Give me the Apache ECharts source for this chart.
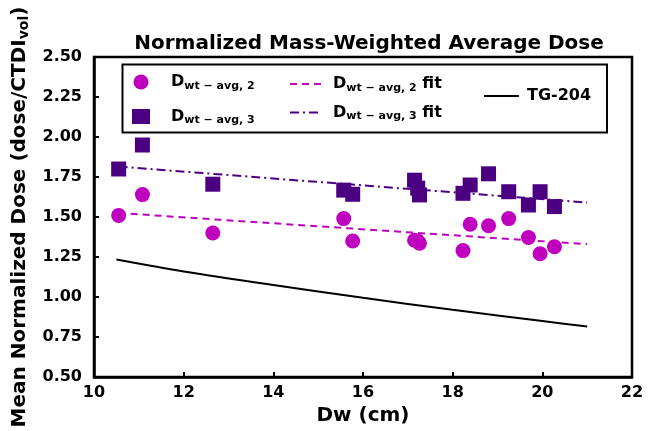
<!DOCTYPE html>
<html><head><meta charset="utf-8">
<script src="https://cdn.jsdelivr.net/npm/echarts@6/dist/echarts.min.js"></script>
<style>html,body{margin:0;padding:0;background:#fff}#c{width:649px;height:431px}</style>
</head><body><div id="c"></div>
<script>
// Water-equivalent diameter (cm)
const dw = [10.55, 11.08, 12.65, 15.57, 15.77, 17.15, 17.22, 17.26, 18.23, 18.39, 18.80, 19.25, 19.69, 19.95, 20.27];
// D_wt-avg,2 (circles)
const davg2 = [1.51, 1.64, 1.40, 1.49, 1.35, 1.355, 1.35, 1.336, 1.29, 1.455, 1.445, 1.49, 1.372, 1.27, 1.314];
// D_wt-avg,3 (squares)
const davg3 = [1.80, 1.95, 1.705, 1.668, 1.642, 1.73, 1.68, 1.638, 1.648, 1.70, 1.77, 1.658, 1.575, 1.658, 1.565];
// Linear fits (end points)
const fitX = [10.55, 21.0];
const fit2 = [1.525, 1.33];
const fit3 = [1.815, 1.59];
// TG-204 curve
const tgX = [10.5, 12, 14, 16, 18, 20, 21];
const tgY = [1.235, 1.16, 1.075, 0.995, 0.92, 0.85, 0.815];
const xTicks = [10, 12, 14, 16, 18, 20, 22];
const yTicks = [0.5, 0.75, 1.0, 1.25, 1.5, 1.75, 2.0, 2.25, 2.5];

const FF = 'DejaVu Sans';
const zip = (a, b) => a.map((v, i) => [v, b[i]]);
const MAG = '#bf00bf', IND = '#4b0082';
const rich = {
  D: {fontSize: 16, fontWeight: 'bold', fontFamily: FF, color: '#000'},
  s: {fontSize: 11, fontWeight: 'bold', fontFamily: FF, color: '#000', padding: [8, 0, 0, 0]},
  t: {fontSize: 16, fontWeight: 'bold', fontFamily: FF, color: '#000'},
  g1: {width: 16}, g2: {width: 6}, g3: {width: 3}
};
const names = {
  'D2': '{g1| }{D|D}{s|wt − avg, 2}',
  'D3': '{g1| }{D|D}{s|wt − avg, 3}',
  'F2': '{g2| }{D|D}{s|wt − avg, 2}{t| fit}',
  'F3': '{g2| }{D|D}{s|wt − avg, 3}{t| fit}',
  'TG': '{g3| }{t|TG-204}'
};
const chart = echarts.init(document.getElementById('c'), null, {renderer: 'canvas'});
chart.setOption({
  animation: false,
  backgroundColor: '#fff',
  title: {
    text: 'Normalized Mass-Weighted Average Dose', left: 364, top: 29, textAlign: 'center',
    textStyle: {fontFamily: FF, fontWeight: 'bold', fontSize: 20, color: '#000'}
  },
  grid: {left: 94, right: 17, top: 57, bottom: 54, show: true, borderColor: '#000', borderWidth: 2.5, containLabel: false},
  xAxis: {
    type: 'value', min: 10, max: 22, interval: 2,
    name: 'Dw (cm)', nameLocation: 'middle', nameGap: 29,
    nameTextStyle: {fontFamily: FF, fontWeight: 'bold', fontSize: 20, color: '#000'},
    axisLine: {lineStyle: {color: '#000', width: 2.5}},
    axisTick: {inside: true, length: 5, lineStyle: {color: '#000', width: 2}},
    axisLabel: {fontFamily: FF, fontWeight: 'bold', fontSize: 16, color: '#000', margin: 8,
      formatter: v => xTicks.includes(v) ? String(v) : ''},
    splitLine: {show: false}
  },
  yAxis: {
    type: 'value', min: 0.5, max: 2.5, interval: 0.25,
    name: '{n|Mean Normalized Dose (dose/CTDI}{v|vol}{n|)}', nameLocation: 'middle', nameGap: 63,
    nameTextStyle: {rich: {
      n: {fontFamily: FF, fontWeight: 'bold', fontSize: 20, color: '#000'},
      v: {fontFamily: FF, fontWeight: 'bold', fontSize: 14, color: '#000', padding: [9, 0, 0, 0]}
    }},
    axisLine: {lineStyle: {color: '#000', width: 2.5}},
    axisTick: {inside: true, length: 5, lineStyle: {color: '#000', width: 2}},
    axisLabel: {fontFamily: FF, fontWeight: 'bold', fontSize: 16, color: '#000', margin: 12,
      formatter: v => yTicks.some(t => Math.abs(t - v) < 1e-9) ? v.toFixed(2) : ''},
    splitLine: {show: false}
  },
  legend: [
    {orient: 'vertical', left: 127, top: 69, itemGap: 17, itemWidth: 18, itemHeight: 15, data: [
      {name: 'D2', icon: 'circle'}, {name: 'D3', icon: 'rect'}],
      formatter: n => names[n], textStyle: {rich}},
    {orient: 'vertical', left: 284, top: 71, itemGap: 11, itemWidth: 32, itemHeight: 18, data: ['F2', 'F3'],
      itemStyle: {opacity: 0}, formatter: n => names[n], textStyle: {rich}},
    {orient: 'vertical', left: 478, top: 83, itemWidth: 35, itemHeight: 18, data: ['TG'],
      itemStyle: {opacity: 0}, formatter: n => names[n], textStyle: {rich}}
  ],
  graphic: [{type: 'rect', shape: {x: 122.5, y: 64.5, width: 484.5, height: 68}, style: {fill: 'none', stroke: '#000', lineWidth: 2}, z: 10}],
  series: [
    {name: 'F2', type: 'line', data: zip(fitX, fit2), symbol: 'none', z: 2,
      lineStyle: {color: MAG, width: 2, type: [7, 5]}, itemStyle: {color: MAG}},
    {name: 'F3', type: 'line', data: zip(fitX, fit3), symbol: 'none', z: 2,
      lineStyle: {color: IND, width: 2, type: [9, 4, 2, 4]}, itemStyle: {color: IND}},
    {name: 'TG', type: 'line', data: zip(tgX, tgY), symbol: 'none', smooth: 0.3, z: 2,
      lineStyle: {color: '#000', width: 2}, itemStyle: {color: '#000'}},
    {name: 'D2', type: 'scatter', data: zip(dw, davg2), symbol: 'circle', symbolSize: 15, z: 3,
      itemStyle: {color: MAG, opacity: 1}},
    {name: 'D3', type: 'scatter', data: zip(dw, davg3), symbol: 'rect', symbolSize: 15, z: 3,
      itemStyle: {color: IND, opacity: 1}}
  ]
});
</script></body></html>
